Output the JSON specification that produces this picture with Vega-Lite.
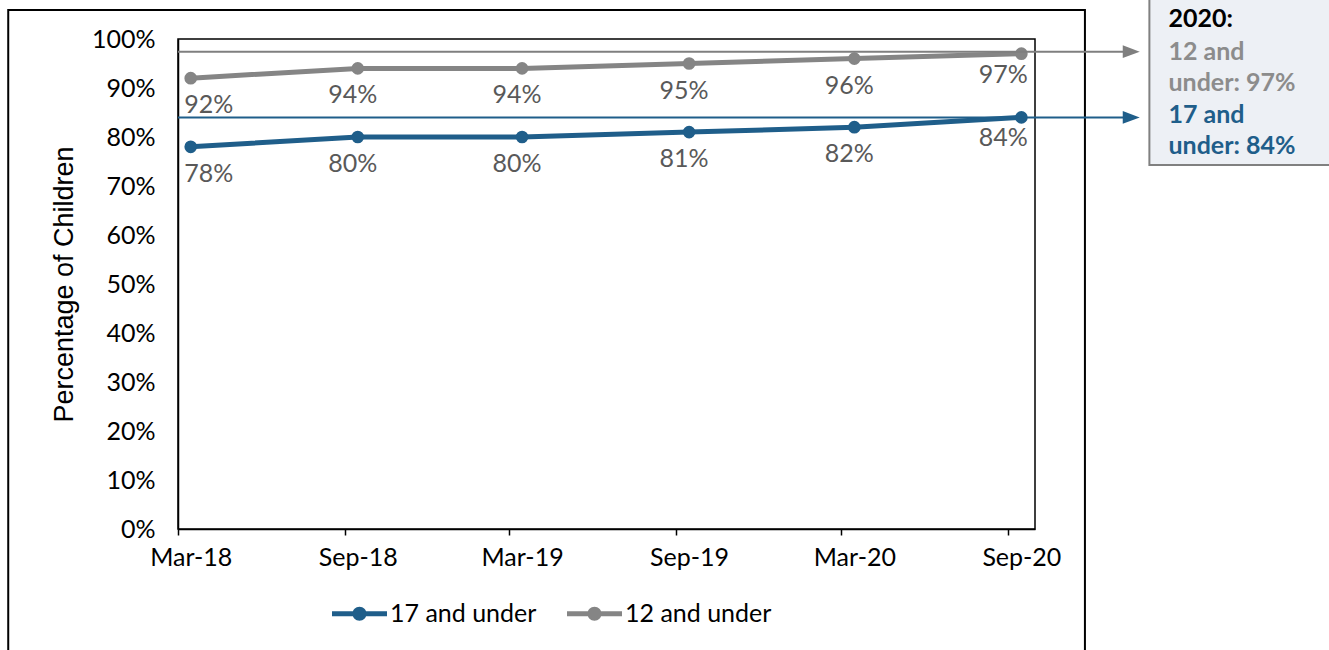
{
  "$schema": "https://vega.github.io/schema/vega-lite/v6.json",
  "width": 857,
  "height": 490,
  "autosize": {"type": "none"},
  "padding": {"left": 178, "top": 39, "right": 294, "bottom": 121},
  "background": "white",
  "config": {
    "view": {"stroke": "#000", "strokeWidth": 1.5},
    "font": "Lato",
    "axis": {"labelFont": "Lato", "titleFont": "Liberation Sans"}
  },
  "data": {
    "values": [
      {"date": "2018-03-01", "group": "17 and under", "pct": 0.78},
      {"date": "2018-09-01", "group": "17 and under", "pct": 0.80},
      {"date": "2019-03-01", "group": "17 and under", "pct": 0.80},
      {"date": "2019-09-01", "group": "17 and under", "pct": 0.81},
      {"date": "2020-03-01", "group": "17 and under", "pct": 0.82},
      {"date": "2020-09-01", "group": "17 and under", "pct": 0.84},
      {"date": "2018-03-01", "group": "12 and under", "pct": 0.92},
      {"date": "2018-09-01", "group": "12 and under", "pct": 0.94},
      {"date": "2019-03-01", "group": "12 and under", "pct": 0.94},
      {"date": "2019-09-01", "group": "12 and under", "pct": 0.95},
      {"date": "2020-03-01", "group": "12 and under", "pct": 0.96},
      {"date": "2020-09-01", "group": "12 and under", "pct": 0.97}
    ]
  },
  "layer": [
    {
      "data": {"values": [{}]},
      "mark": {"type": "rect", "fill": null, "fillOpacity": 0, "stroke": "#000", "strokeWidth": 2, "clip": false},
      "encoding": {
        "x": {"datum": {"year": 2017, "month": 8, "date": 12, "utc": true}, "type": "temporal"},
        "x2": {"datum": {"year": 2020, "month": 11, "date": 10, "utc": true}},
        "y": {"datum": 1.059, "type": "quantitative"},
        "y2": {"datum": -0.4}
      }
    },
    {
      "mark": {"type": "line", "strokeWidth": 5},
      "encoding": {
        "x": {
          "field": "date", "type": "temporal",
          "scale": {"type": "utc", "domain": [{"year": 2018, "month": 2, "date": 15, "utc": true}, {"year": 2020, "month": 9, "date": 16, "utc": true}]},
          "axis": {
            "title": null,
            "values": [
              {"year": 2018, "month": 3, "date": 1, "utc": true},
              {"year": 2018, "month": 9, "date": 1, "utc": true},
              {"year": 2019, "month": 3, "date": 1, "utc": true},
              {"year": 2019, "month": 9, "date": 1, "utc": true},
              {"year": 2020, "month": 3, "date": 1, "utc": true},
              {"year": 2020, "month": 9, "date": 1, "utc": true}
            ],
            "format": "%b-%y",
            "grid": false,
            "domainColor": "#000", "domainWidth": 1.5,
            "tickColor": "#000", "tickWidth": 1.5, "tickSize": 6,
            "tickOffset": -13, "labelOffset": 13,
            "labelFontSize": 25, "labelColor": "#000", "labelPadding": 10
          }
        },
        "y": {
          "field": "pct", "type": "quantitative",
          "scale": {"domain": [0, 1], "nice": false},
          "axis": {
            "title": "Percentage of Children",
            "titleFontSize": 27, "titleFontWeight": "normal", "titleColor": "#000",
            "titleX": -114, "titleY": 245, "titleBaseline": "middle", "titleAngle": -90,
            "values": [0, 0.1, 0.2, 0.3, 0.4, 0.5, 0.6, 0.7, 0.8, 0.9, 1],
            "format": ".0%",
            "ticks": false, "labelPadding": 23,
            "labelFontSize": 25, "labelColor": "#000",
            "domainColor": "#000", "domainWidth": 1.5,
            "gridColor": "#d9d9d9", "gridWidth": 1.5
          }
        },
        "color": {
          "field": "group", "type": "nominal",
          "scale": {"domain": ["17 and under", "12 and under"], "range": ["#1f5e8a", "#858585"]},
          "legend": {
            "orient": "none", "legendX": 154, "legendY": 547, "direction": "horizontal", "title": null,
            "symbolType": "M-1,-0.09H1V0.09H-1Z M0.255,0A0.255,0.255,0,1,1,-0.255,0A0.255,0.255,0,1,1,0.255,0Z",
            "symbolSize": 3025, "symbolStrokeWidth": 0,
            "labelFontSize": 25, "labelColor": "#000", "labelFont": "Lato", "labelOffset": 3,
            "columnPadding": 30,
            "encode": {"symbols": {"update": {"fill": {"scale": "color", "field": "value"}, "opacity": {"value": 1}}}}
          }
        }
      }
    },
    {
      "mark": {"type": "point", "filled": true, "size": 160, "opacity": 1},
      "encoding": {
        "x": {"field": "date", "type": "temporal"},
        "y": {"field": "pct", "type": "quantitative"},
        "color": {"field": "group", "type": "nominal"}
      }
    },
    {
      "transform": [{"filter": "year(datum.date) == 2018 && month(datum.date) == 2"}],
      "mark": {"type": "text", "fontSize": 25, "color": "#595959", "dx": 18, "dy": 27, "baseline": "middle"},
      "encoding": {
        "x": {"field": "date", "type": "temporal"},
        "y": {"field": "pct", "type": "quantitative"},
        "text": {"field": "pct", "format": ".0%"}
      }
    },
    {
      "transform": [{"filter": "!(year(datum.date) == 2018 && month(datum.date) == 2) && !(year(datum.date) == 2020 && month(datum.date) == 8)"}],
      "mark": {"type": "text", "fontSize": 25, "color": "#595959", "dx": -5, "dy": 27, "baseline": "middle"},
      "encoding": {
        "x": {"field": "date", "type": "temporal"},
        "y": {"field": "pct", "type": "quantitative"},
        "text": {"field": "pct", "format": ".0%"}
      }
    },
    {
      "transform": [{"filter": "year(datum.date) == 2020 && month(datum.date) == 8"}],
      "mark": {"type": "text", "fontSize": 25, "color": "#595959", "dx": -18, "dy": 21, "baseline": "middle"},
      "encoding": {
        "x": {"field": "date", "type": "temporal"},
        "y": {"field": "pct", "type": "quantitative"},
        "text": {"field": "pct", "format": ".0%"}
      }
    },
    {
      "data": {"values": [{}]},
      "mark": {"type": "rule", "color": "#7f7f7f", "strokeWidth": 2, "clip": false},
      "encoding": {
        "x": {"datum": {"year": 2018, "month": 2, "date": 15, "utc": true}, "type": "temporal"},
        "x2": {"datum": {"year": 2020, "month": 12, "date": 23, "utc": true}},
        "y": {"datum": 0.974, "type": "quantitative"}
      }
    },
    {
      "data": {"values": [{}]},
      "mark": {"type": "rule", "color": "#1f5e8a", "strokeWidth": 2, "clip": false},
      "encoding": {
        "x": {"datum": {"year": 2018, "month": 2, "date": 15, "utc": true}, "type": "temporal"},
        "x2": {"datum": {"year": 2020, "month": 12, "date": 23, "utc": true}},
        "y": {"datum": 0.84, "type": "quantitative"}
      }
    },
    {
      "data": {"values": [{}]},
      "mark": {"type": "point", "shape": "M-1,-0.75L1,0L-1,0.75Z", "size": 289, "filled": true, "color": "#7f7f7f", "opacity": 1, "clip": false},
      "encoding": {
        "x": {"datum": {"year": 2020, "month": 12, "date": 31, "utc": true}, "type": "temporal"},
        "y": {"datum": 0.974, "type": "quantitative"}
      }
    },
    {
      "data": {"values": [{}]},
      "mark": {"type": "point", "shape": "M-1,-0.75L1,0L-1,0.75Z", "size": 289, "filled": true, "color": "#1f5e8a", "opacity": 1, "clip": false},
      "encoding": {
        "x": {"datum": {"year": 2020, "month": 12, "date": 31, "utc": true}, "type": "temporal"},
        "y": {"datum": 0.84, "type": "quantitative"}
      }
    },
    {
      "data": {"values": [{}]},
      "mark": {"type": "rect", "fill": "#edf0f5", "stroke": "#808080", "strokeWidth": 2, "clip": false},
      "encoding": {
        "x": {"datum": {"year": 2021, "month": 1, "date": 20, "utc": true}, "type": "temporal"},
        "x2": {"datum": {"year": 2021, "month": 12, "date": 31, "utc": true}},
        "y": {"datum": 1.2, "type": "quantitative"},
        "y2": {"datum": 0.743}
      }
    },
    {
      "data": {"values": [{}]},
      "mark": {"type": "text", "text": "2020:", "fontSize": 25, "fontWeight": "bold", "color": "#000", "align": "left", "baseline": "middle", "clip": false},
      "encoding": {
        "x": {"datum": {"year": 2021, "month": 2, "date": 10, "utc": true}, "type": "temporal"},
        "y": {"datum": 1.041, "type": "quantitative"}
      }
    },
    {
      "data": {"values": [{}]},
      "mark": {"type": "text", "text": ["12 and", "under: 97%"], "lineHeight": 31, "fontSize": 25, "fontWeight": "bold", "color": "#8c8c8c", "align": "left", "baseline": "middle", "clip": false},
      "encoding": {
        "x": {"datum": {"year": 2021, "month": 2, "date": 10, "utc": true}, "type": "temporal"},
        "y": {"datum": 0.9736, "type": "quantitative"}
      }
    },
    {
      "data": {"values": [{}]},
      "mark": {"type": "text", "text": ["17 and", "under: 84%"], "lineHeight": 31, "fontSize": 25, "fontWeight": "bold", "color": "#1f5e8a", "align": "left", "baseline": "middle", "clip": false},
      "encoding": {
        "x": {"datum": {"year": 2021, "month": 2, "date": 10, "utc": true}, "type": "temporal"},
        "y": {"datum": 0.8456, "type": "quantitative"}
      }
    }
  ]
}
